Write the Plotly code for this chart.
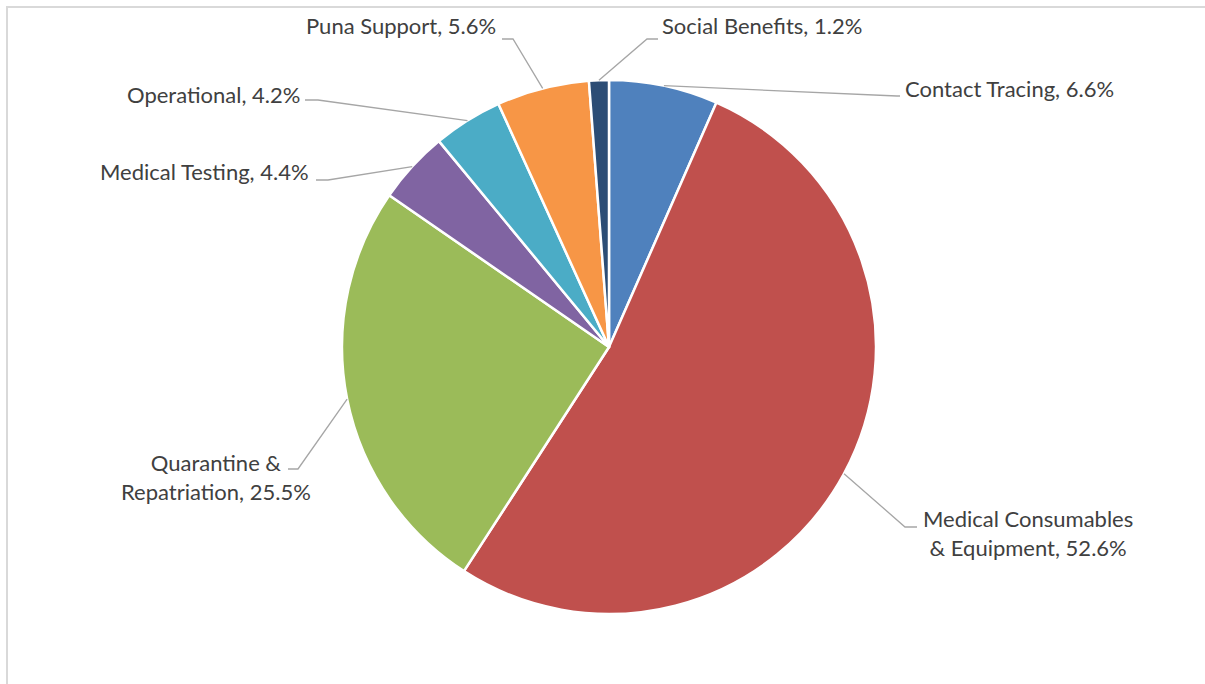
import math
import plotly.graph_objects as go

# Spending breakdown (share of total, %)
categories = [
    "Contact Tracing",
    "Medical Consumables & Equipment",
    "Quarantine & Repatriation",
    "Medical Testing",
    "Operational",
    "Puna Support",
    "Social Benefits",
]
shares = [6.6, 52.6, 25.5, 4.4, 4.2, 5.6, 1.2]
label_lines = [
    ["Contact Tracing, {v}%"],
    ["Medical Consumables", "& Equipment, {v}%"],
    ["Quarantine &", "Repatriation, {v}%"],
    ["Medical Testing, {v}%"],
    ["Operational, {v}%"],
    ["Puna Support, {v}%"],
    ["Social Benefits, {v}%"],
]
colors = ["#4f81bd", "#c0504d", "#9bbb59", "#8064a2", "#4bacc6", "#f79646", "#2c4d75"]

W, H = 1205, 684
CX, CY, R = 609, 347, 267

# label placement (pixel space): text anchor x, y, alignment, and leader elbow points
label_layout = [
    dict(x=903, y=88, xanchor="left", elbow=[(897, 96), (900, 96)]),
    dict(x=1028, y=533, xanchor="center", elbow=[(905, 527), (917, 527)]),
    dict(x=216, y=477, xanchor="center", elbow=[(298, 469), (288, 469)]),
    dict(x=311, y=171, xanchor="right", elbow=[(328, 180), (316, 180)]),
    dict(x=302, y=94, xanchor="right", elbow=[(318, 100), (305, 100)]),
    dict(x=498, y=26, xanchor="right", elbow=[(513, 39), (502, 39)]),
    dict(x=660, y=26, xanchor="left", elbow=[(647, 39), (658, 39)]),
]


def px(x):
    return x / W


def py(y):
    return 1 - y / H


fig = go.Figure(
    go.Pie(
        labels=categories,
        values=shares,
        sort=False,
        direction="clockwise",
        rotation=0,
        marker=dict(colors=colors, line=dict(color="white", width=2.5)),
        textinfo="none",
        hoverinfo="label+percent",
        domain=dict(x=[px(CX - R), px(CX + R)], y=[py(CY + R), py(CY - R)]),
        showlegend=False,
    )
)

total = sum(shares)
shapes = []
annotations = []
cum = 0.0
for name, val, lines, lay in zip(categories, shares, label_lines, label_layout):
    mid = (cum + val / 2) / total * 2 * math.pi
    cum += val
    ax = CX + R * math.sin(mid)
    ay = CY - R * math.cos(mid)
    pts = [(ax, ay)] + lay["elbow"]
    path = "M " + " L ".join(f"{px(x):.5f},{py(y):.5f}" for x, y in pts)
    shapes.append(dict(type="path", xref="paper", yref="paper", path=path,
                       line=dict(color="#a6a6a6", width=1.3)))
    text = "<br>".join(s.format(v=val) for s in lines)
    annotations.append(dict(
        x=px(lay["x"]), y=py(lay["y"]), xref="paper", yref="paper",
        text=text, showarrow=False, xanchor=lay["xanchor"], yanchor="middle",
        align=lay["xanchor"],
        font=dict(family="Lato", size=22, color="#404040"),
    ))

# chart-area border
shapes.append(dict(type="rect", xref="paper", yref="paper",
                   x0=px(7), x1=px(1215), y0=py(700), y1=py(7),
                   line=dict(color="#d9d9d9", width=2), fillcolor="rgba(0,0,0,0)"))

fig.update_layout(
    width=W, height=H,
    margin=dict(l=0, r=0, t=0, b=0),
    paper_bgcolor="white",
    plot_bgcolor="white",
    shapes=shapes,
    annotations=annotations,
)

fig.write_html("out.html")
